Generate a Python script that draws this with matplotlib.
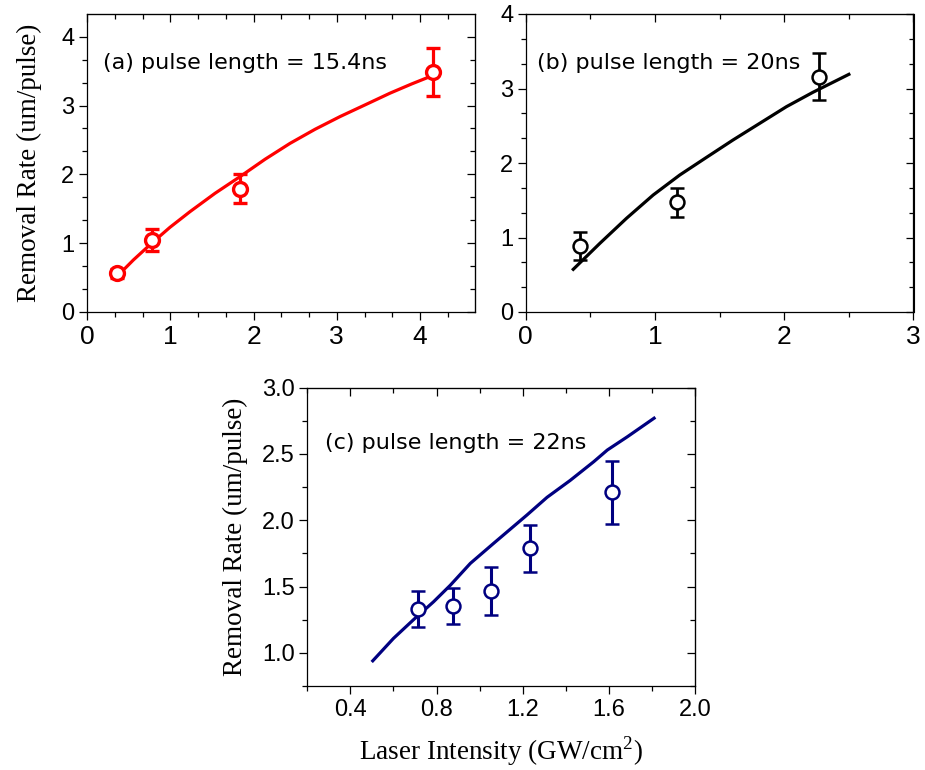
import matplotlib.pyplot as plt
from matplotlib.ticker import MultipleLocator, AutoMinorLocator, FormatStrFormatter

# (a) pulse length = 15.4 ns
xa = [0.36, 0.78, 1.84, 4.15]
ya = [0.56, 1.04, 1.79, 3.49]
ea = [0.06, 0.16, 0.21, 0.35]
fit_xa = [0.357, 0.557, 0.777, 0.997, 1.237, 1.538, 1.838, 2.138, 2.438,
          2.739, 3.04, 3.339, 3.64, 3.90, 4.16]
fit_ya = [0.513, 0.756, 1.00, 1.231, 1.458, 1.725, 1.967, 2.219, 2.45,
          2.655, 2.84, 3.009, 3.18, 3.314, 3.44]

# (b) pulse length = 20 ns
xb = [0.42, 1.17, 2.27]
yb = [0.89, 1.47, 3.16]
eb = [0.19, 0.20, 0.32]
fit_xb = [0.368, 0.574, 0.78, 0.986, 1.192, 1.399, 1.604, 1.81, 2.017, 2.222, 2.50]
fit_yb = [0.573, 0.922, 1.258, 1.570, 1.839, 2.076, 2.309, 2.532, 2.756, 2.949, 3.19]

# (c) pulse length = 22 ns
xc = [0.716, 0.876, 1.054, 1.233, 1.613]
yc = [1.33, 1.355, 1.466, 1.788, 2.21]
ec = [0.135, 0.135, 0.18, 0.18, 0.24]
fit_xc = [0.504, 0.600, 0.693, 0.786, 0.864, 0.957, 1.065, 1.22, 1.313,
          1.42, 1.53, 1.593, 1.686, 1.81]
fit_yc = [0.94, 1.109, 1.25, 1.385, 1.51, 1.675, 1.826, 2.04, 2.173,
          2.30, 2.442, 2.53, 2.63, 2.77]

ylabel = 'Removal Rate (um/pulse)'
xlabel = 'Laser Intensity (GW/cm$^2$)'

plt.rcParams['font.family'] = ['Liberation Sans', 'DejaVu Sans']
plt.rcParams['mathtext.fontset'] = 'custom'
plt.rcParams['mathtext.rm'] = 'Liberation Serif'
label_font = 'Liberation Serif'
note_font = 'DejaVu Sans'

fig = plt.figure(figsize=(9.25, 7.7), dpi=100)
W, H = 925.0, 770.0


def make_axes(left, right, top, bottom):
    return fig.add_axes([left / W, 1 - bottom / H, (right - left) / W, (bottom - top) / H])


def style(ax, xmaj, xmin_n, ymaj, ymin_n, xsize, ysize):
    ax.xaxis.set_major_locator(MultipleLocator(xmaj))
    ax.xaxis.set_minor_locator(AutoMinorLocator(xmin_n))
    ax.yaxis.set_major_locator(MultipleLocator(ymaj))
    ax.yaxis.set_minor_locator(AutoMinorLocator(ymin_n))
    ax.tick_params(which='major', direction='out', length=6, width=0.9, pad=3)
    ax.tick_params(which='minor', direction='out', length=3.5, width=0.9)
    ax.tick_params(axis='x', labelsize=xsize)
    ax.tick_params(axis='y', labelsize=ysize)
    for s in ax.spines.values():
        s.set_linewidth(0.9)
    # inward ticks on top and right
    top = ax.secondary_xaxis('top')
    top.xaxis.set_major_locator(MultipleLocator(xmaj))
    top.xaxis.set_minor_locator(AutoMinorLocator(xmin_n))
    top.tick_params(which='major', direction='in', length=6, width=0.9, labeltop=False)
    top.tick_params(which='minor', direction='in', length=3.5, width=0.9)
    right = ax.secondary_yaxis('right')
    right.yaxis.set_major_locator(MultipleLocator(ymaj))
    right.yaxis.set_minor_locator(AutoMinorLocator(ymin_n))
    right.tick_params(which='major', direction='in', length=6, width=0.9, labelright=False)
    right.tick_params(which='minor', direction='in', length=3.5, width=0.9)


# panel (a)
ax1 = make_axes(87, 475, 14, 312)
ax1.plot(fit_xa, fit_ya, '-', color='#ff0000', lw=2.3)
ax1.errorbar(xa, ya, yerr=ea, fmt='o', color='#ff0000', mfc='white', mec='#ff0000',
             ms=10, mew=2.4, elinewidth=2.3, capsize=5, capthick=2.3)
ax1.set_xlim(0, 4.66)
ax1.set_ylim(0, 4.33)
style(ax1, 1, 3, 1, 3, 19, 17)
ax1.set_ylabel(ylabel, fontfamily=label_font, fontsize=19.5, labelpad=14)
ax1.text(0.04, 0.835, '(a) pulse length = 15.4ns', transform=ax1.transAxes,
         fontfamily=note_font, fontsize=16, va='center')

# panel (b)
ax2 = make_axes(525.7, 913.5, 14, 312)
ax2.plot(fit_xb, fit_yb, '-', color='black', lw=2.3)
ax2.errorbar(xb, yb, yerr=eb, fmt='o', color='black', mfc='white', mec='black',
             ms=10, mew=1.8, elinewidth=2.0, capsize=5, capthick=2.0)
ax2.set_xlim(0, 3)
ax2.set_ylim(0, 4)
style(ax2, 1, 2, 1, 3, 19, 17)
ax2.text(0.03, 0.835, '(b) pulse length = 20ns', transform=ax2.transAxes,
         fontfamily=note_font, fontsize=16, va='center')

# panel (c)
ax3 = make_axes(307.3, 695, 387.7, 686)
ax3.plot(fit_xc, fit_yc, '-', color='#000080', lw=2.3)
ax3.errorbar(xc, yc, yerr=ec, fmt='o', color='#000080', mfc='white', mec='#000080',
             ms=10, mew=1.8, elinewidth=2.2, capsize=5, capthick=2.2)
ax3.set_xlim(0.2, 2.0)
ax3.set_ylim(0.75, 3.0)
style(ax3, 0.4, 2, 0.5, 2, 17, 17)
ax3.xaxis.set_major_formatter(FormatStrFormatter('%.1f'))
ax3.yaxis.set_major_formatter(FormatStrFormatter('%.1f'))
ax3.set_ylabel(ylabel, fontfamily=label_font, fontsize=19.5, labelpad=10)
ax3.set_xlabel(xlabel, fontfamily=label_font, fontsize=19.5, labelpad=10)
ax3.text(0.045, 0.815, '(c) pulse length = 22ns', transform=ax3.transAxes,
         fontfamily=note_font, fontsize=16, va='center')

fig.savefig('out.png', dpi=100)
